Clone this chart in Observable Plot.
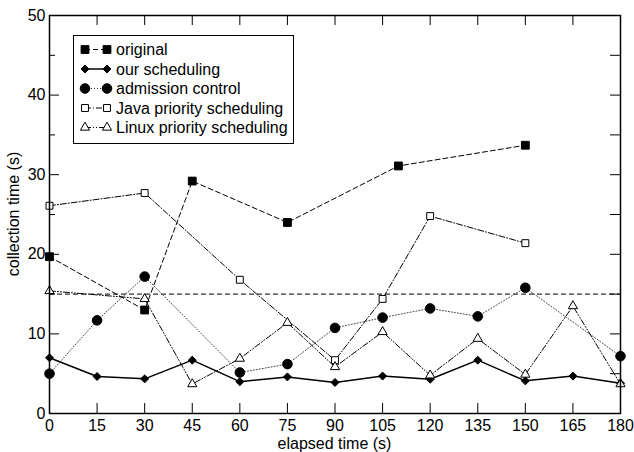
<!DOCTYPE html>
<html><head><meta charset="utf-8">
<script src="https://cdn.jsdelivr.net/npm/d3@7"></script>
<script src="https://cdn.jsdelivr.net/npm/@observablehq/plot@0.6"></script>
<style>body{margin:0;background:#fff} svg{font-family:"Liberation Sans",Arial,sans-serif}</style>
</head><body><div id="chart"></div>
<script>
// ---- data ----
const xTicks = [0,15,30,45,60,75,90,105,120,135,150,165,180];
const yTicks = [0,10,20,30,40,50];
const yMinor = [5,15,25,35,45];
const originalT = [0,30,45,75,110,150];
const originalV = [19.7,13.0,29.2,24.0,31.1,33.7];
const oursT = [0,15,30,45,60,75,90,105,120,135,150,165,180];
const oursV = [7.0,4.65,4.35,6.7,4.0,4.6,3.9,4.7,4.3,6.7,4.1,4.7,3.8];
const admissionT = [0,15,30,60,75,90,105,120,135,150,180];
const admissionV = [5.0,11.7,17.2,5.15,6.2,10.75,12.05,13.2,12.2,15.8,7.2];
const javaT = [0,30,60,90,105,120,150];
const javaV = [26.1,27.7,16.8,6.7,14.4,24.8,21.4];
const linuxT = [0,30,45,60,75,90,105,120,135,150,165,180];
const linuxV = [15.4,14.4,3.7,6.9,11.4,5.85,10.25,4.8,9.4,4.9,13.5,3.7];
const threshold = [15];
const seriesNames = ["original","our scheduling","admission control","Java priority scheduling","Linux priority scheduling"];
const xLabel = "elapsed time (s)";
const yLabel = "collection time (s)";

// ---- styles ----
const styles = [
  {t: originalT, v: originalV, dash: "5,3", sw: 1, symbol: "square", r: 4.4, fill: "black", stroke: "black", line: "black"},
  {t: oursT, v: oursV, dash: null, sw: 1.5, symbol: "diamond2", r: 3.6, fill: "black", stroke: "black", line: "black"},
  {t: admissionT, v: admissionV, dash: "1,2", sw: 1, symbol: "circle", r: 4.8, fill: "black", stroke: "black", line: "#444"},
  {t: javaT, v: javaV, dash: "6,2,1,2", sw: 1, symbol: "square2", r: 4.4, fill: "white", stroke: "black", line: "black"},
  {t: linuxT, v: linuxV, dash: "6,2,1,2,1,2", sw: 1, symbol: "triangle2", r: 4.4, fill: "white", stroke: "black", line: "black"}
];
const d3sym = {square: d3.symbolSquare, diamond2: d3.symbolDiamond2, circle: d3.symbolCircle, square2: d3.symbolSquare2, triangle2: d3.symbolTriangle2};

const W = 634, H = 452, mL = 49, mR = 14, mT = 15, mB = 39;
const pw = W - mL - mR, ph = H - mT - mB;

const marks = [
  Plot.ruleY(threshold, {y: d => d, stroke: "black", strokeDasharray: "5,3", strokeWidth: 1})
];
styles.forEach(s => {
  const data = s.t.map((t, i) => ({t, v: s.v[i]}));
  marks.push(Plot.line(data, {x: "t", y: "v", stroke: s.line, strokeWidth: s.sw, strokeDasharray: s.dash}));
});
styles.forEach(s => {
  const data = s.t.map((t, i) => ({t, v: s.v[i]}));
  marks.push(Plot.dot(data, {x: "t", y: "v", symbol: () => s.symbol, r: s.r, fill: s.fill, stroke: s.stroke, strokeWidth: 1}));
});
const inner = xTicks.slice(1, -1), innerY = yTicks.slice(1, -1);
marks.push(
  Plot.tickX(inner, {x: d => d, insetTop: ph - 10, stroke: "black"}),
  Plot.tickX(inner, {x: d => d, insetBottom: ph - 10, stroke: "black"}),
  Plot.tickY(innerY, {y: d => d, insetRight: pw - 10, stroke: "black"}),
  Plot.tickY(yMinor, {y: d => d, insetRight: pw - 6, stroke: "black"}),
  Plot.tickY(innerY, {y: d => d, insetLeft: pw - 10, stroke: "black"}),
  Plot.tickY(yMinor, {y: d => d, insetLeft: pw - 10, stroke: "black"}),
  Plot.axisX(xTicks, {tickSize: 0, tickPadding: 6, label: null, fill: "black"}),
  Plot.axisY(yTicks, {tickSize: 0, tickPadding: 4, label: null, fill: "black"}),
  Plot.frame({stroke: "black", strokeWidth: 1.5})
);

const plot = Plot.plot({
  width: W, height: H, marginLeft: mL, marginRight: mR, marginTop: mT, marginBottom: mB,
  x: {domain: [0, 180]}, y: {domain: [0, 50]},
  style: {fontSize: "16px", fontFamily: "'Liberation Sans', Arial, sans-serif", color: "black", background: "white"},
  marks
});
document.getElementById("chart").appendChild(plot);

const svg = d3.select(plot);
// axis titles
svg.append("text").attr("x", mL + pw / 2).attr("y", 449).attr("text-anchor", "middle")
  .attr("font-size", 16).attr("fill", "black").text(xLabel);
svg.append("text").attr("transform", `translate(19,${mT + ph / 2}) rotate(-90)`).attr("text-anchor", "middle")
  .attr("font-size", 16).attr("fill", "black").text(yLabel);

// legend
const lg = svg.append("g");
lg.append("rect").attr("x", 73.5).attr("y", 35.5).attr("width", 220).attr("height", 108)
  .attr("fill", "white").attr("stroke", "black").attr("stroke-width", 1);
styles.forEach((s, i) => {
  const cy = 49.5 + i * 19.5;
  lg.append("line").attr("x1", 85).attr("x2", 107).attr("y1", cy).attr("y2", cy)
    .attr("stroke", s.line).attr("stroke-width", s.sw).attr("stroke-dasharray", s.dash);
  [85, 107].forEach(x => {
    lg.append("path").attr("transform", `translate(${x},${cy})`)
      .attr("d", d3.symbol(d3sym[s.symbol], Math.PI * s.r * s.r)())
      .attr("fill", s.fill).attr("stroke", s.stroke).attr("stroke-width", 1);
  });
  lg.append("text").attr("x", 116).attr("y", cy + 5.5).attr("text-anchor", "start")
    .attr("font-size", 16).attr("fill", "black").text(seriesNames[i]);
});
</script></body></html>
